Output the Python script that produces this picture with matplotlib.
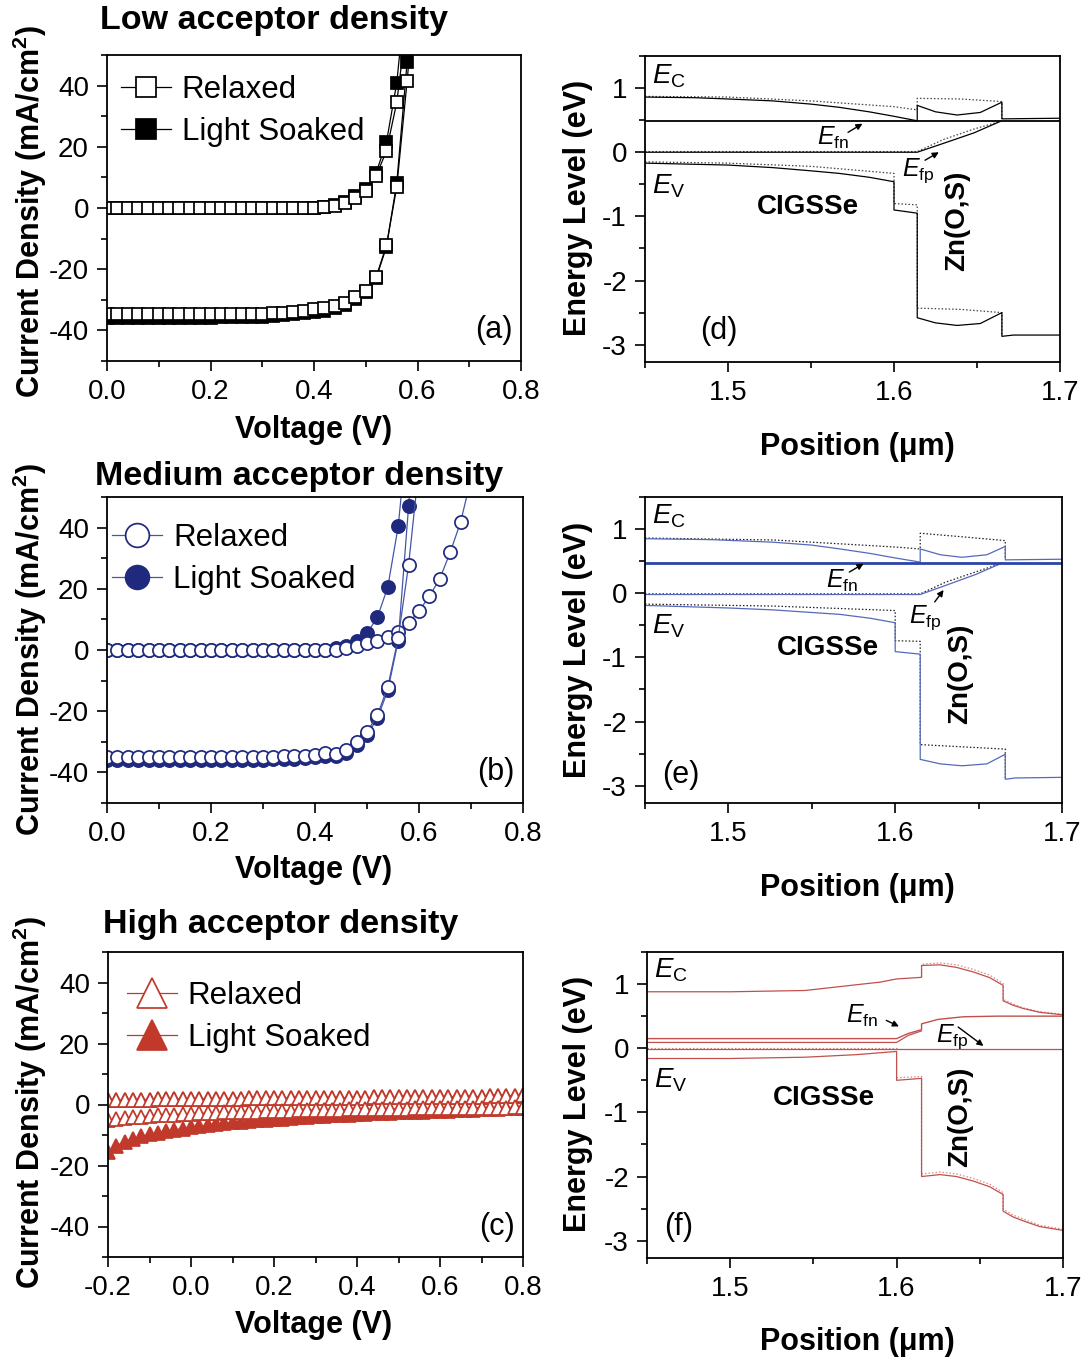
import numpy as np
import matplotlib
matplotlib.use("Agg")
import matplotlib.pyplot as plt
from matplotlib.ticker import MultipleLocator

plt.rcParams['font.family'] = ['Liberation Sans', 'DejaVu Sans']
plt.rcParams['mathtext.fontset'] = 'custom'
plt.rcParams['mathtext.rm'] = 'Liberation Sans'
plt.rcParams['mathtext.it'] = 'Liberation Sans:italic'
plt.rcParams['mathtext.bf'] = 'Liberation Sans:bold'
plt.rcParams['axes.unicode_minus'] = False

# ---------------- J-V data (voltage in V, current density in mA/cm2) ----------------
v_ab = [0.00, 0.02, 0.04, 0.06, 0.08, 0.10, 0.12, 0.14, 0.16, 0.18,
        0.20, 0.22, 0.24, 0.26, 0.28, 0.30, 0.32, 0.34, 0.36, 0.38,
        0.40, 0.42, 0.44, 0.46, 0.48, 0.50, 0.52, 0.54, 0.56, 0.58, 0.60]

# low acceptor density
a_dark_relaxed = [0.0] * 20 + [0.1, 0.3, 0.7, 1.6, 3.3, 5.4, 10.4, 18.7, 34.6, 62.0, 95.0]
a_dark_soaked = [0.0] * 20 + [0.1, 0.4, 0.9, 2.0, 3.8, 6.2, 11.5, 21.5, 41.0, 75.0, 110.0]
a_light_relaxed = [-34.8] * 11 + [-34.7, -34.7, -34.6, -34.6, -34.5, -34.4, -34.3, -34.0, -33.6,
                                  -33.1, -32.7, -32.0, -30.9, -29.2, -27.0, -22.6, -12.2, 7.0, 41.6, 80.0]
a_light_soaked = [-35.8] * 11 + [-35.7, -35.7, -35.6, -35.6, -35.5, -35.3, -35.1, -34.8, -34.4,
                                 -34.0, -33.5, -32.8, -31.6, -29.8, -27.4, -23.0, -12.7, 8.3, 47.8, 90.0]

v_b = v_ab + [0.62, 0.64, 0.66, 0.68, 0.70]
# medium acceptor density
b_dark_relaxed = [0.0] * 22 + [0.1, 0.5, 1.3, 2.2, 3.0, 4.4, 6.0, 8.8, 12.7, 17.6, 23.3, 31.9, 41.8, 56.0]
b_dark_soaked = [0.0] * 22 + [0.5, 1.2, 3.0, 5.5, 10.7, 20.6, 40.4, 75.0, 110.0, 150.0, 190.0, 230.0, 270.0, 310.0]
b_light_relaxed = [-35.0] * 16 + [-34.9, -34.8, -34.7, -34.5, -34.2, -33.8, -34.0, -32.8, -30.0,
                                  -26.8, -21.3, -12.0, 3.9, 27.8, 60.0, 95.0, 130.0, 165.0, 200.0, 235.0]
b_light_soaked = [-35.8] * 16 + [-35.7, -35.6, -35.5, -35.3, -35.0, -34.6, -34.6, -33.6, -31.0,
                                 -27.8, -22.3, -13.2, 3.0, 47.0, 90.0, 130.0, 170.0, 210.0, 250.0, 290.0]

v_c = [-0.20, -0.18, -0.16, -0.14, -0.12, -0.10, -0.08, -0.06, -0.04, -0.02,
       0.00, 0.02, 0.04, 0.06, 0.08, 0.10, 0.12, 0.14, 0.16, 0.18,
       0.20, 0.22, 0.24, 0.26, 0.28, 0.30, 0.32, 0.34, 0.36, 0.38,
       0.40, 0.42, 0.44, 0.46, 0.48, 0.50, 0.52, 0.54, 0.56, 0.58,
       0.60, 0.62, 0.64, 0.66, 0.68, 0.70, 0.72, 0.74, 0.76, 0.78, 0.80]
# high acceptor density
c_dark_relaxed = [1.4, 1.5, 1.5, 1.6, 1.6, 1.6, 1.7, 1.7, 1.7, 1.8,
                  1.8, 1.8, 1.8, 1.9, 1.9, 1.9, 1.9, 2.0, 2.0, 2.0,
                  2.0, 2.0, 2.1, 2.1, 2.1, 2.1, 2.1, 2.2, 2.2, 2.2,
                  2.2, 2.2, 2.3, 2.3, 2.3, 2.3, 2.3, 2.4, 2.4, 2.4,
                  2.4, 2.5, 2.5, 2.5, 2.6, 2.6, 2.7, 2.7, 2.8, 2.9, 3.0]
c_dark_soaked = [1.4, 1.5, 1.5, 1.6, 1.6, 1.6, 1.7, 1.7, 1.7, 1.8,
                 1.8, 1.8, 1.8, 1.9, 1.9, 1.9, 1.9, 2.0, 2.0, 2.0,
                 2.0, 2.0, 2.1, 2.1, 2.1, 2.1, 2.1, 2.2, 2.2, 2.2,
                 2.2, 2.2, 2.3, 2.3, 2.3, 2.3, 2.3, 2.4, 2.4, 2.4,
                 2.4, 2.5, 2.5, 2.5, 2.6, 2.6, 2.7, 2.7, 2.8, 2.9, 3.0]
c_light_relaxed = [-5.2, -4.8, -4.5, -4.2, -4.0, -3.8, -3.6, -3.4, -3.3, -3.1,
                   -3.0, -2.9, -2.8, -2.7, -2.6, -2.5, -2.4, -2.3, -2.3, -2.2,
                   -2.1, -2.0, -2.0, -1.9, -1.9, -1.8, -1.8, -1.7, -1.7, -1.6,
                   -1.6, -1.5, -1.5, -1.5, -1.4, -1.4, -1.4, -1.3, -1.3, -1.3,
                   -1.2, -1.2, -1.2, -1.1, -1.1, -1.1, -1.0, -1.0, -1.0, -0.9, -0.9]
c_light_soaked = [-15.5, -13.5, -12.2, -11.2, -10.4, -9.8, -9.2, -8.7, -8.3, -7.9,
                  -7.5, -7.1, -6.8, -6.5, -6.2, -5.9, -5.6, -5.4, -5.2, -5.0,
                  -4.8, -4.6, -4.4, -4.2, -4.0, -3.9, -3.7, -3.6, -3.4, -3.3,
                  -3.2, -3.0, -2.9, -2.8, -2.7, -2.6, -2.5, -2.4, -2.3, -2.2,
                  -2.1, -2.0, -1.9, -1.8, -1.7, -1.6, -1.5, -1.4, -1.3, -1.2, -1.1]

# ---------------- band diagrams (position in um, energy in eV) ----------------
# low acceptor density
d_ec_x = [1.45, 1.48, 1.50, 1.527, 1.55, 1.567, 1.585, 1.60, 1.614, 1.614, 1.625, 1.638, 1.652, 1.665, 1.665, 1.70]
d_ec = [0.86, 0.85, 0.83, 0.80, 0.75, 0.70, 0.63, 0.56, 0.49, 0.73, 0.63, 0.58, 0.62, 0.78, 0.52, 0.53]
d_ec_dot_x = [1.45, 1.50, 1.55, 1.60, 1.614, 1.614, 1.64, 1.665, 1.665]
d_ec_dot = [0.87, 0.86, 0.80, 0.71, 0.66, 0.84, 0.83, 0.79, 0.52]
d_efn_x = [1.45, 1.70]
d_efn = [0.48, 0.48]
d_efp_x = [1.45, 1.614, 1.63, 1.648, 1.664]
d_efp = [0.0, 0.0, 0.14, 0.30, 0.48]
d_efp_dot = [0.01, 0.01, 0.20, 0.36, 0.48]
d_ev_x = [1.45, 1.50, 1.527, 1.55, 1.567, 1.585, 1.60, 1.60, 1.614, 1.614, 1.625, 1.638, 1.652, 1.665, 1.665, 1.672, 1.70]
d_ev = [-0.17, -0.20, -0.24, -0.29, -0.33, -0.39, -0.46, -0.90, -0.95, -2.58, -2.66, -2.70, -2.67, -2.50, -2.87, -2.85, -2.85]
d_ev_dot_x = [1.45, 1.50, 1.55, 1.60, 1.60, 1.614, 1.614, 1.64, 1.665, 1.665]
d_ev_dot = [-0.15, -0.17, -0.22, -0.33, -0.80, -0.82, -2.43, -2.45, -2.50, -2.87]

# medium acceptor density
e_ec_x = [1.45, 1.49, 1.527, 1.55, 1.567, 1.585, 1.60, 1.615, 1.615, 1.627, 1.64, 1.655, 1.666, 1.666, 1.70]
e_ec = [0.85, 0.835, 0.795, 0.75, 0.69, 0.62, 0.55, 0.485, 0.69, 0.60, 0.56, 0.60, 0.73, 0.52, 0.53]
e_ec_dot_x = [1.45, 1.527, 1.567, 1.60, 1.615, 1.615, 1.64, 1.666, 1.666]
e_ec_dot = [0.86, 0.83, 0.77, 0.72, 0.69, 0.935, 0.88, 0.82, 0.53]
e_efn_x = [1.45, 1.70]
e_efn = [0.47, 0.47]
e_efp_x = [1.45, 1.615, 1.63, 1.648, 1.664]
e_efp = [-0.02, -0.02, 0.12, 0.29, 0.47]
e_efp_dot = [-0.01, -0.01, 0.17, 0.33, 0.47]
e_ev_x = [1.45, 1.50, 1.527, 1.567, 1.585, 1.60, 1.60, 1.615, 1.615, 1.627, 1.64, 1.655, 1.666, 1.666, 1.672, 1.70]
e_ev = [-0.19, -0.23, -0.26, -0.33, -0.39, -0.46, -0.91, -0.95, -2.59, -2.66, -2.69, -2.66, -2.51, -2.90, -2.88, -2.87]
e_ev_dot_x = [1.45, 1.527, 1.60, 1.60, 1.615, 1.615, 1.666, 1.666]
e_ev_dot = [-0.17, -0.20, -0.27, -0.74, -0.75, -2.36, -2.43, -2.88]

# high acceptor density
f_ec_x = [1.45, 1.50, 1.545, 1.576, 1.59, 1.60, 1.615, 1.615, 1.626, 1.636, 1.646, 1.656, 1.664, 1.664, 1.67, 1.676, 1.686, 1.70]
f_ec = [0.88, 0.88, 0.90, 0.99, 1.03, 1.08, 1.105, 1.29, 1.30, 1.26, 1.19, 1.10, 0.98, 0.74, 0.67, 0.62, 0.56, 0.52]
f_ec_dot_x = [1.615, 1.615, 1.626, 1.636, 1.646, 1.656, 1.664, 1.664, 1.67, 1.676, 1.686, 1.70]
f_ec_dot = [1.11, 1.31, 1.33, 1.30, 1.23, 1.14, 1.01, 0.76, 0.69, 0.63, 0.57, 0.53]
f_efn_x = [1.45, 1.60, 1.607, 1.615, 1.615, 1.625, 1.64, 1.66, 1.70]
f_efn = [0.15, 0.15, 0.23, 0.29, 0.38, 0.45, 0.49, 0.50, 0.50]
f_efn2_x = [1.45, 1.60, 1.607, 1.615]
f_efn2 = [0.09, 0.09, 0.20, 0.27]
f_efp_x = [1.45, 1.70]
f_efp = [-0.01, -0.01]
f_efp_dot_x = [1.45, 1.60]
f_efp_dot = [0.0, 0.0]
f_ev_x = [1.45, 1.50, 1.545, 1.576, 1.60, 1.60, 1.615, 1.615, 1.626, 1.636, 1.646, 1.656, 1.664, 1.664, 1.67, 1.676, 1.686, 1.70]
f_ev = [-0.16, -0.16, -0.14, -0.10, -0.05, -0.50, -0.47, -2.00, -1.97, -2.00, -2.07, -2.16, -2.28, -2.54, -2.63, -2.69, -2.78, -2.84]
f_ev_dot_x = [1.60, 1.615, 1.615, 1.626, 1.636, 1.646, 1.656, 1.664, 1.664, 1.67, 1.676, 1.686, 1.70]
f_ev_dot = [-0.46, -0.44, -1.96, -1.93, -1.96, -2.03, -2.12, -2.25, -2.51, -2.60, -2.66, -2.76, -2.82]

titles = ['Low acceptor density', 'Medium acceptor density', 'High acceptor density']

# ---------------- figure layout ----------------
W, H = 1087, 1360
fig = plt.figure(figsize=(W / 100, H / 100), dpi=100)


def rect(l, t, r, b):
    return [l / W, 1 - b / H, (r - l) / W, (b - t) / H]


TICK_FS = 20
LABEL_FS = 22


def style_axes(ax, xmaj, xmin, ymaj, ymin):
    ax.xaxis.set_major_locator(MultipleLocator(xmaj))
    ax.xaxis.set_minor_locator(MultipleLocator(xmin))
    ax.yaxis.set_major_locator(MultipleLocator(ymaj))
    ax.yaxis.set_minor_locator(MultipleLocator(ymin))
    ax.tick_params(which='both', direction='out', width=1.2, labelsize=TICK_FS,
                   top=False, right=False, colors='black')
    ax.tick_params(which='major', length=7, pad=6)
    ax.tick_params(which='minor', length=4)
    for s in ax.spines.values():
        s.set_linewidth(1.3)


jv_rects = [rect(107, 55, 521, 361), rect(107, 497, 523, 803), rect(108, 952, 523, 1257)]
band_rects = [rect(645, 56, 1060, 362), rect(645, 497, 1062, 803), rect(647, 952, 1063, 1258)]

jv_styles = [
    dict(marker='s', ms=8.2, edge='black', fill='black', line='black', mscale=1.8),
    dict(marker='o', ms=9.5, edge='#1f2a7e', fill='#1f2a7e', line='#4555a8', mscale=1.8),
    dict(marker='^', ms=10.0, edge='#c0392b', fill='#c0392b', line='#c0392b', mscale=2.1),
]
jv_data = [
    (v_ab, a_dark_relaxed, a_dark_soaked, a_light_relaxed, a_light_soaked),
    (v_b, b_dark_relaxed, b_dark_soaked, b_light_relaxed, b_light_soaked),
    (v_c, c_dark_relaxed, c_dark_soaked, c_light_relaxed, c_light_soaked),
]
panel_letters_jv = ['(a)', '(b)', '(c)']
legend_anchor = [(0.033, 0.935), (0.013, 0.915), (0.045, 0.905)]

for i in range(3):
    ax = fig.add_axes(jv_rects[i])
    st = jv_styles[i]
    v, dr, ds, lr, ls_ = jv_data[i]
    common = dict(marker=st['marker'], ms=st['ms'], mew=1.25, lw=0.9,
                  color=st['line'], mec=st['edge'])
    h_s = None
    for y in (ls_, ds):
        h_s, = ax.plot(v, y, mfc=st['fill'], label='Light Soaked', **common)
    h_r = None
    for y in (dr, lr):
        h_r, = ax.plot(v, y, mfc='white', label='Relaxed', **common)
    if i < 2:
        ax.set_xlim(0, 0.8)
    else:
        ax.set_xlim(-0.2, 0.8)
    ax.set_ylim(-50, 50)
    style_axes(ax, 0.2, 0.1, 20, 10)
    ax.legend([h_r, h_s], ['Relaxed', 'Light Soaked'], loc='upper left',
              bbox_to_anchor=legend_anchor[i], frameon=False, fontsize=22.5,
              handlelength=1.6, handletextpad=0.35, labelspacing=0.38,
              borderpad=0, borderaxespad=0, numpoints=1, markerscale=st['mscale'])
    ax.text(0.98, 0.1, panel_letters_jv[i], transform=ax.transAxes,
            ha='right', va='center', fontsize=22)

# band diagram panels
band_sets = [
    dict(solid='black', dot='#444444', efn='black', efn_lw=1.3,
         ec=(d_ec_x, d_ec), ec_dot=(d_ec_dot_x, d_ec_dot), efn_line=(d_efn_x, d_efn),
         efp=(d_efp_x, d_efp), efp_dot=(d_efp_x, d_efp_dot),
         ev=(d_ev_x, d_ev), ev_dot=(d_ev_dot_x, d_ev_dot),
         efn_txt=(1.5536, 0.11), efn_arr=((1.5723, 0.31), (1.581, 0.445)),
         efp_txt=(1.6048, -0.36), efp_arr=((1.6187, -0.125), (1.627, 0.0)),
         ec_txt=1.07, ev_txt=-0.64, cig=(1.548, -0.86), zn=(1.6378, -1.07),
         letter='(d)', letter_pos=(0.133, 0.1)),
    dict(solid='#5569bb', dot='#222222', efn='#2a45a8', efn_lw=2.0,
         ec=(e_ec_x, e_ec), ec_dot=(e_ec_dot_x, e_ec_dot), efn_line=(e_efn_x, e_efn),
         efp=(e_efp_x, e_efp), efp_dot=(e_efp_x, e_efp_dot),
         ev=(e_ev_x, e_ev), ev_dot=(e_ev_dot_x, e_ev_dot),
         efn_txt=(1.5584, 0.09), efn_arr=((1.5725, 0.33), (1.581, 0.46)),
         efp_txt=(1.6084, -0.465), efp_arr=((1.6237, -0.135), (1.629, 0.05)),
         ec_txt=1.085, ev_txt=-0.62, cig=(1.5596, -0.85), zn=(1.639, -1.26),
         letter='(e)', letter_pos=(0.04, 0.09)),
    dict(solid='#c0504d', dot='#d98a85', efn='#c0504d', efn_lw=1.0,
         ec=(f_ec_x, f_ec), ec_dot=(f_ec_dot_x, f_ec_dot), efn_line=(f_efn_x, f_efn),
         efp=(f_efp_x, f_efp), efp_dot=(f_efp_dot_x, f_efp_dot),
         ev=(f_ev_x, f_ev), ev_dot=(f_ev_dot_x, f_ev_dot),
         efn_txt=(1.5698, 0.39), efn_arr=((1.5938, 0.434), (1.6014, 0.34)),
         efp_txt=(1.6236, 0.093), efp_arr=((1.637, 0.33), (1.6522, 0.036)),
         ec_txt=1.10, ev_txt=-0.62, cig=(1.5564, -0.78), zn=(1.6381, -1.07),
         letter='(f)', letter_pos=(0.04, 0.1)),
]

DOT = (0, (1.2, 1.6))
for i, bs in enumerate(band_sets):
    ax = fig.add_axes(band_rects[i])
    ax.plot(*bs['ec_dot'], color=bs['dot'], lw=0.9, ls=DOT)
    ax.plot(*bs['efp_dot'], color=bs['dot'], lw=0.9, ls=DOT)
    ax.plot(*bs['ev_dot'], color=bs['dot'], lw=0.9, ls=DOT)
    ax.plot(*bs['ec'], color=bs['solid'], lw=0.9)
    ax.plot(*bs['efp'], color=bs['solid'], lw=0.9)
    ax.plot(*bs['ev'], color=bs['solid'], lw=0.9)
    ax.plot(*bs['efn_line'], color=bs['efn'], lw=bs['efn_lw'])
    if i == 2:
        ax.plot(f_efn2_x, f_efn2, color=bs['solid'], lw=0.9)
    ax.set_xlim(1.45, 1.7)
    ax.set_ylim(-3.27, 1.5)
    style_axes(ax, 0.1, 0.05, 1, 0.5)

    ax.text(1.4542, bs['ec_txt'], r'$E_{\rm C}$', fontsize=20, ha='left', va='baseline')
    ax.text(1.4542, bs['ev_txt'], r'$E_{\rm V}$', fontsize=20, ha='left', va='baseline')
    ax.text(*bs['efn_txt'], r'$E_{\rm fn}$', fontsize=18, ha='left', va='baseline')
    ax.text(*bs['efp_txt'], r'$E_{\rm fp}$', fontsize=18, ha='left', va='baseline')
    for tail, head in (bs['efn_arr'], bs['efp_arr']):
        ax.annotate('', xy=head, xytext=tail,
                    arrowprops=dict(arrowstyle='-|>', color='black', lw=1.0,
                                    mutation_scale=9, shrinkA=0, shrinkB=0))
    ax.text(*bs['cig'], 'CIGSSe', fontsize=20, fontweight='bold', ha='center', va='center')
    ax.text(*bs['zn'], 'Zn(O,S)', fontsize=20, fontweight='bold', ha='center', va='center',
            rotation=90)
    ax.text(*bs['letter_pos'], bs['letter'], transform=ax.transAxes,
            ha='left', va='center', fontsize=22)

# titles and axis labels
title_pos = [(100, 20), (95, 476), (103, 925)]
for (x, y), t in zip(title_pos, titles):
    fig.text(x / W, 1 - y / H, t, fontsize=24.5, fontweight='bold', ha='left', va='center')

for yc in (212, 650, 1103):
    fig.text(30 / W, 1 - yc / H, r'Current Density (mA/cm$^\mathbf{2}$)', rotation=90,
             fontsize=LABEL_FS, fontweight='bold', ha='center', va='center')
for yc in (208, 650, 1104):
    fig.text(578 / W, 1 - yc / H, 'Energy Level (eV)', rotation=90,
             fontsize=LABEL_FS, fontweight='bold', ha='center', va='center')
for yc in (430, 870, 1325):
    fig.text(314 / W, 1 - yc / H, 'Voltage (V)', fontsize=LABEL_FS, fontweight='bold',
             ha='center', va='center')
for yc in (447, 888, 1342):
    fig.text(857 / W, 1 - yc / H, 'Position (μm)', fontsize=LABEL_FS, fontweight='bold',
             ha='center', va='center')

fig.savefig('out.png', dpi=100)
